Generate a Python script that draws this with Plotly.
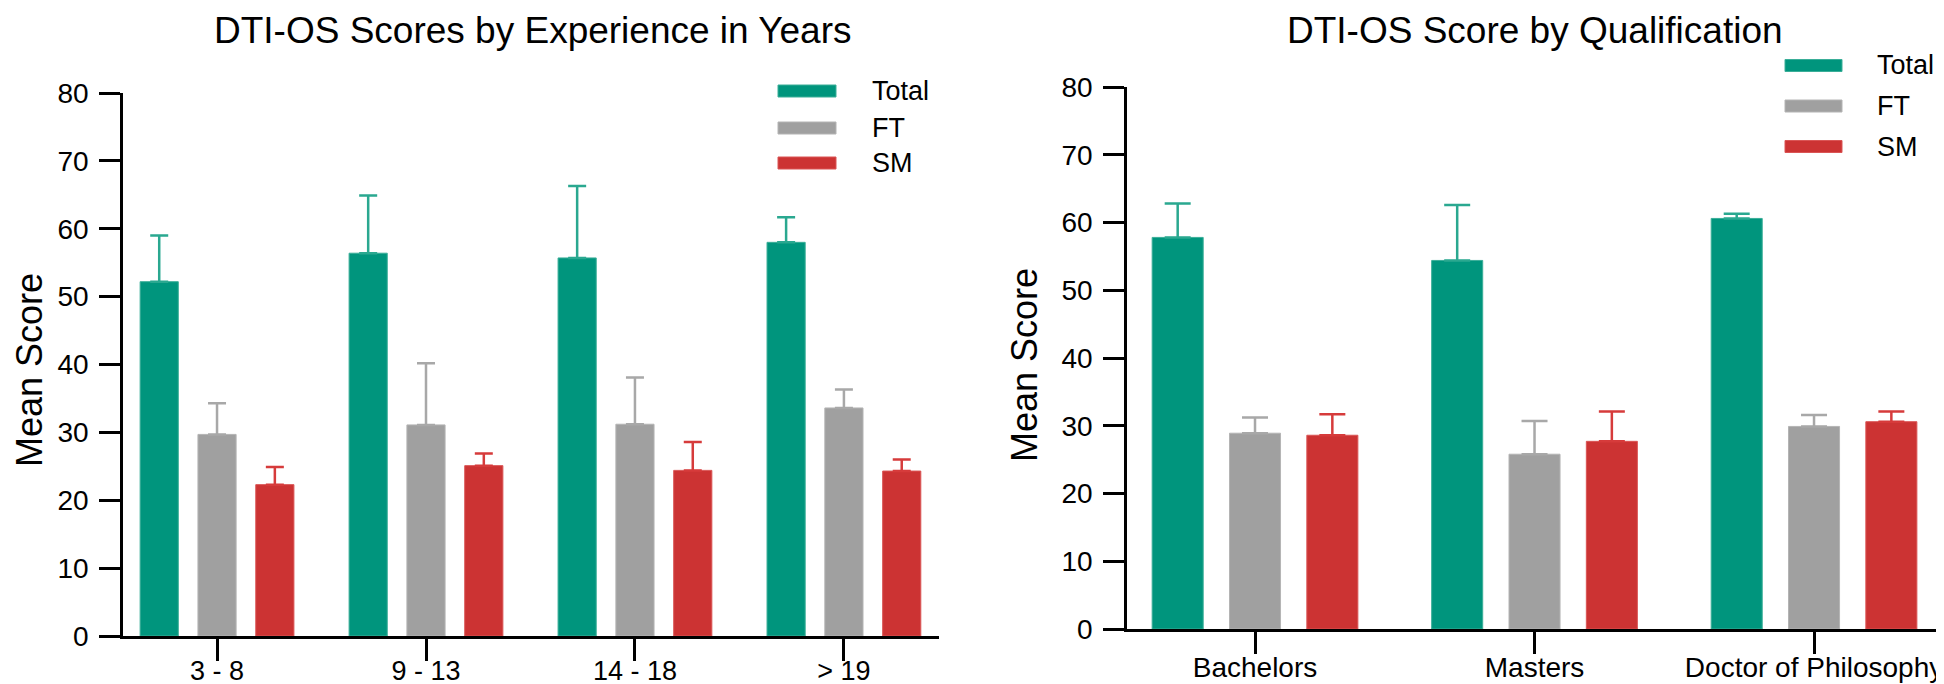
import plotly.graph_objects as go

W, H = 1944, 684

# ---------------- data ----------------
exp_categories = ["3 - 8", "9 - 13", "14 - 18", "> 19"]
exp_total = [52.2, 56.4, 55.7, 58.0]
exp_total_err = [6.8, 8.5, 10.6, 3.7]
exp_ft = [29.7, 31.1, 31.2, 33.6]
exp_ft_err = [4.6, 9.1, 6.9, 2.7]
exp_sm = [22.3, 25.1, 24.4, 24.3]
exp_sm_err = [2.6, 1.8, 4.2, 1.7]

qual_categories = ["Bachelors", "Masters", "Doctor of Philosophy"]
qual_total = [57.8, 54.4, 60.6]
qual_total_err = [5.0, 8.2, 0.7]
qual_ft = [28.9, 25.8, 29.9]
qual_ft_err = [2.3, 4.9, 1.7]
qual_sm = [28.6, 27.7, 30.6]
qual_sm_err = [3.1, 4.4, 1.5]

y_ticks = [0, 10, 20, 30, 40, 50, 60, 70, 80]
series_names = ["Total", "FT", "SM"]
left_title = "DTI-OS Scores by Experience in Years"
right_title = "DTI-OS Score by Qualification"
y_title = "Mean Score"

# ---------------- styles ----------------
FONT = "Liberation Sans, Arial, Helvetica, sans-serif"
bar_colors = ["#00957D", "#A0A0A0", "#CC3333"]
edge_colors = ["#3AAE98", "#B4B4B4", "#DA5555"]
err_colors = ["#2AA890", "#A8A8A8", "#D63B3B"]


def px_x(x):
    return x / W


def px_y(y):
    return 1 - y / H


fig = go.Figure()

left_sets = [(exp_total, exp_total_err), (exp_ft, exp_ft_err), (exp_sm, exp_sm_err)]
right_sets = [(qual_total, qual_total_err), (qual_ft, qual_ft_err), (qual_sm, qual_sm_err)]

for i, (vals, errs) in enumerate(left_sets):
    fig.add_trace(go.Bar(
        x=exp_categories, y=vals, name=series_names[i],
        marker=dict(color=bar_colors[i], line=dict(color=edge_colors[i], width=1)),
        error_y=dict(type="data", symmetric=False, array=errs, arrayminus=[0] * len(errs),
                     color=err_colors[i], thickness=2.5, width=9),
        xaxis="x", yaxis="y", showlegend=False,
    ))

for i, (vals, errs) in enumerate(right_sets):
    fig.add_trace(go.Bar(
        x=qual_categories, y=vals, name=series_names[i],
        marker=dict(color=bar_colors[i], line=dict(color=edge_colors[i], width=1)),
        error_y=dict(type="data", symmetric=False, array=errs, arrayminus=[0] * len(errs),
                     color=err_colors[i], thickness=2.5, width=13),
        xaxis="x2", yaxis="y2", showlegend=False,
    ))

axis_common = dict(
    showline=True, linecolor="black", linewidth=2.5,
    ticks="outside", tickcolor="black", tickwidth=2.5,
    showgrid=False, zeroline=False,
    automargin=False,
)
tick_font = dict(family=FONT, size=28, color="black")
xtick_font = dict(family=FONT, size=27, color="black")

fig.update_layout(
    width=W, height=H,
    margin=dict(l=0, r=0, t=0, b=0),
    paper_bgcolor="white", plot_bgcolor="white",
    barmode="group", bargap=0.17, bargroupgap=0.34,
    showlegend=False,
    font=dict(family=FONT, color="black"),
    xaxis=dict(domain=[px_x(115), px_x(931)], range=[-0.45, 3.455], type="category",
               anchor="y", ticklen=22, ticklabelstandoff=-13, tickfont=xtick_font, **axis_common),
    yaxis=dict(domain=[px_y(628), px_y(85)], range=[0, 80], tickvals=y_ticks,
               anchor="x", ticklen=21, ticklabelstandoff=5, tickfont=tick_font, **axis_common),
    xaxis2=dict(domain=[px_x(1119), px_x(1936)], range=[-0.458, 2.465], type="category",
                anchor="y2", ticklen=22, ticklabelstandoff=-10, tickfont=tick_font, **axis_common),
    yaxis2=dict(domain=[px_y(621), px_y(79)], range=[0, 80], tickvals=y_ticks,
                anchor="x2", ticklen=21, ticklabelstandoff=5, tickfont=tick_font, **axis_common),
)

annotations = []
# titles
annotations.append(dict(text=left_title, x=px_x(525), y=1, xref="paper", yref="paper",
                        xanchor="center", yanchor="top", showarrow=False,
                        font=dict(family=FONT, size=37, color="black")))
annotations.append(dict(text=right_title, x=px_x(1527), y=1, xref="paper", yref="paper",
                        xanchor="center", yanchor="top", showarrow=False,
                        font=dict(family=FONT, size=37, color="black")))
# y-axis titles
annotations.append(dict(text=y_title, x=px_x(21), y=px_y(362), xref="paper", yref="paper",
                        xanchor="center", yanchor="middle", showarrow=False, textangle=-90,
                        font=dict(family=FONT, size=36, color="black")))
annotations.append(dict(text=y_title, x=px_x(1017), y=px_y(357), xref="paper", yref="paper",
                        xanchor="center", yanchor="middle", showarrow=False, textangle=-90,
                        font=dict(family=FONT, size=36, color="black")))

# manual legends
shapes = []
legend_specs = [
    (770, 828, 862, [83, 120, 155]),
    (1777, 1834, 1867, [57.5, 98, 138.5]),
]
for sx0, sx1, tx, ys in legend_specs:
    for i, yc in enumerate(ys):
        shapes.append(dict(type="rect", xref="paper", yref="paper",
                           x0=px_x(sx0), x1=px_x(sx1), y0=px_y(yc + 6), y1=px_y(yc - 6),
                           fillcolor=bar_colors[i], line=dict(color=edge_colors[i], width=1)))
        annotations.append(dict(text=series_names[i], x=px_x(tx), y=px_y(yc), xref="paper",
                                yref="paper", xanchor="left", yanchor="middle", showarrow=False,
                                font=dict(family=FONT, size=27, color="black")))

fig.update_layout(annotations=annotations, shapes=shapes)

fig.write_html("out.html")
